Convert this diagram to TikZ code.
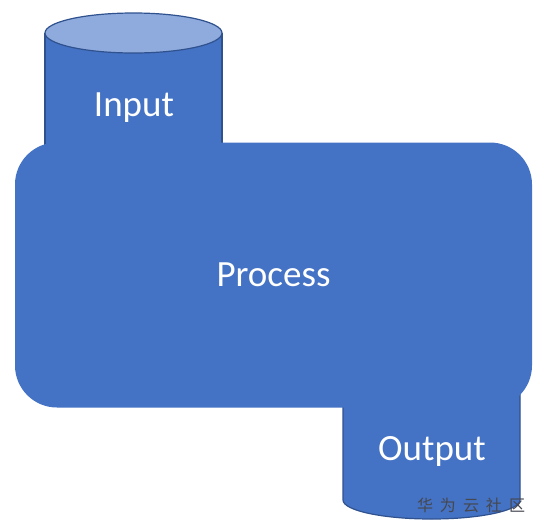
\documentclass[tikz,border=0pt]{standalone}
\usepackage{fontspec}
\setmainfont{Carlito}
\newfontfamily\cjkfont{Noto Sans CJK SC}
\definecolor{boxblue}{RGB}{68, 114, 196}
\definecolor{edgeblue}{RGB}{47, 82, 143}
\definecolor{topblue}{RGB}{143, 170, 220}
\definecolor{markgray}{RGB}{70, 72, 80}
\usetikzlibrary{positioning}

\begin{document}
\begin{tikzpicture}[x=1pt, y=-1pt]
  \useasboundingbox (0, 0) rectangle (539, 531);

  % Input
  \fill[boxblue] (45, 33) rectangle (222, 170);
  \draw[edgeblue, line width=1.2pt] (45, 33) -- (45, 170) (222, 33) -- (222, 170);
  \filldraw[fill=topblue, draw=edgeblue, line width=1.2pt] (133.5, 33) ellipse [x radius=88.5, y radius=20];
  \node[text=white, font=\fontsize{37}{44}\selectfont] (input) at (134, 108) {Input};

  % Output
  \filldraw[fill=boxblue, draw=edgeblue, line width=1.2pt] (343, 380) -- (343, 500)
    arc [start angle=180, end angle=0, x radius=88.5, y radius=19] -- (520, 380);
  \node[text=white, font=\fontsize{37}{44}\selectfont] (output) at (432, 451) {Output};

  % Process
  \node[fill=boxblue, rounded corners=42pt, minimum width=517pt, minimum height=265pt,
        text=white, font=\fontsize{37}{44}\selectfont] (process) at (273.5, 275) {Process};

  % Watermark
  \node[text=markgray, font=\cjkfont\fontsize{16}{18}\selectfont] (mark) at (471, 505)
    {华\hspace{7pt}为\hspace{7pt}云\hspace{7pt}社\hspace{7pt}区};
\end{tikzpicture}
\end{document}
